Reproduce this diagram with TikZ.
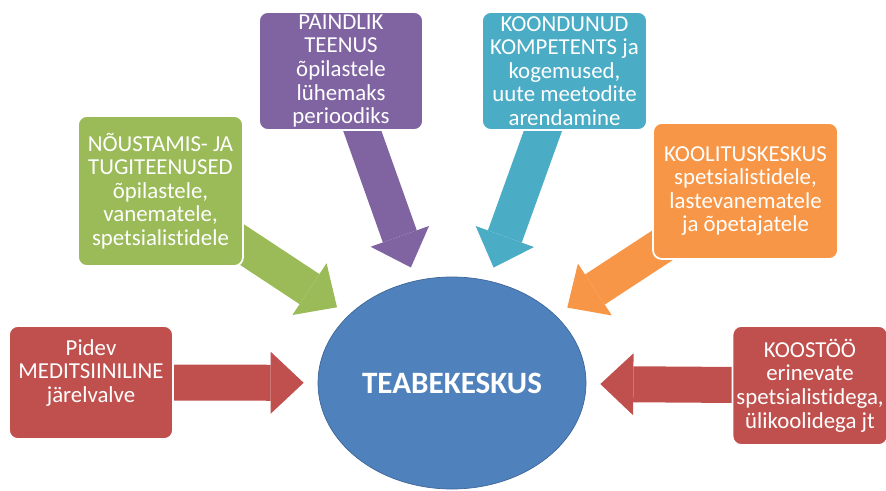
\documentclass[tikz,border=0pt]{standalone}
\usepackage{fontspec}
\setmainfont{Carlito}[Ligatures={NoCommon,NoContextual}, Contextuals=NoAlternate]
\usepackage{xcolor}
\usepackage{tikz}
\usetikzlibrary{arrows.meta, positioning, shapes.geometric, backgrounds}
\definecolor{redcol}{RGB}{192,80,77}
\definecolor{greencol}{RGB}{155,187,89}
\definecolor{purplecol}{RGB}{128,100,162}
\definecolor{tealcol}{RGB}{75,172,198}
\definecolor{orangecol}{RGB}{247,150,70}
\definecolor{hubcol}{RGB}{79,129,189}

\begin{document}
\begin{tikzpicture}[
  font=\fontsize{13}{13.4}\selectfont,
  box/.style={draw=white, line width=1pt, rounded corners=5pt, text=white,
              align=center, inner sep=0.5pt},
  hub/.style={ellipse, draw=hubcol!80!black, fill=hubcol, text=white,
              minimum width=5.36cm, minimum height=4.24cm, inner sep=0pt,
              font=\fontsize{17.7}{20}\selectfont\bfseries},
  feed/.style={#1, line width=0.72cm, shorten >=0.28cm, shorten <=-0.6cm,
               -{Triangle[width=1.24cm, length=0.66cm, line width=0pt]}}
]
  \useasboundingbox (0,0) rectangle (17.72,9.8);

  \node[hub] (hub) at (9.04,2.14) {TEABEKESKUS};

  \node[box, fill=redcol, minimum width=3.28cm, minimum height=2.26cm,
        text depth=0.46cm] (pidev) at (1.82,2.15)
    {Pidev\\MEDITSIINILINE\\järelvalve};
  \node[box, fill=redcol, minimum width=3.1cm, minimum height=2.38cm]
    (koostoo) at (16.2,2.09)
    {KOOSTÖÖ\\erinevate\\spetsialistidega,\\ülikoolidega jt};
  \node[box, fill=greencol, minimum width=3.3cm, minimum height=3.0cm]
    (noustamis) at (3.21,5.98)
    {NÕUSTAMIS- JA\\TUGITEENUSED\\õpilastele,\\vanematele,\\spetsialistidele};
  \node[box, fill=purplecol, minimum width=3.28cm, minimum height=2.36cm]
    (paindlik) at (6.82,8.38)
    {PAINDLIK\\TEENUS\\õpilastele\\lühemaks\\perioodiks};
  \node[box, fill=tealcol, minimum width=3.3cm, minimum height=2.36cm]
    (koondunud) at (11.29,8.38)
    {KOONDUNUD\\KOMPETENTS ja\\kogemused,\\uute meetodite\\arendamine};
  \node[box, fill=orangecol, minimum width=3.7cm, minimum height=2.72cm]
    (koolitus) at (14.91,5.98)
    {KOOLITUSKESKUS\\spetsialistidele,\\lastevanematele\\ja õpetajatele};

  \begin{pgfonlayer}{background}
    \draw[feed=redcol]    (pidev) -- (hub);
    \draw[feed=redcol]    (koostoo) -- (hub);
    \draw[feed=greencol]  (noustamis) -- (hub);
    \draw[feed=purplecol] (paindlik) -- (hub);
    \draw[feed=tealcol]   (koondunud) -- (hub);
    \draw[feed=orangecol] (koolitus) -- (hub);
  \end{pgfonlayer}
\end{tikzpicture}
\end{document}
